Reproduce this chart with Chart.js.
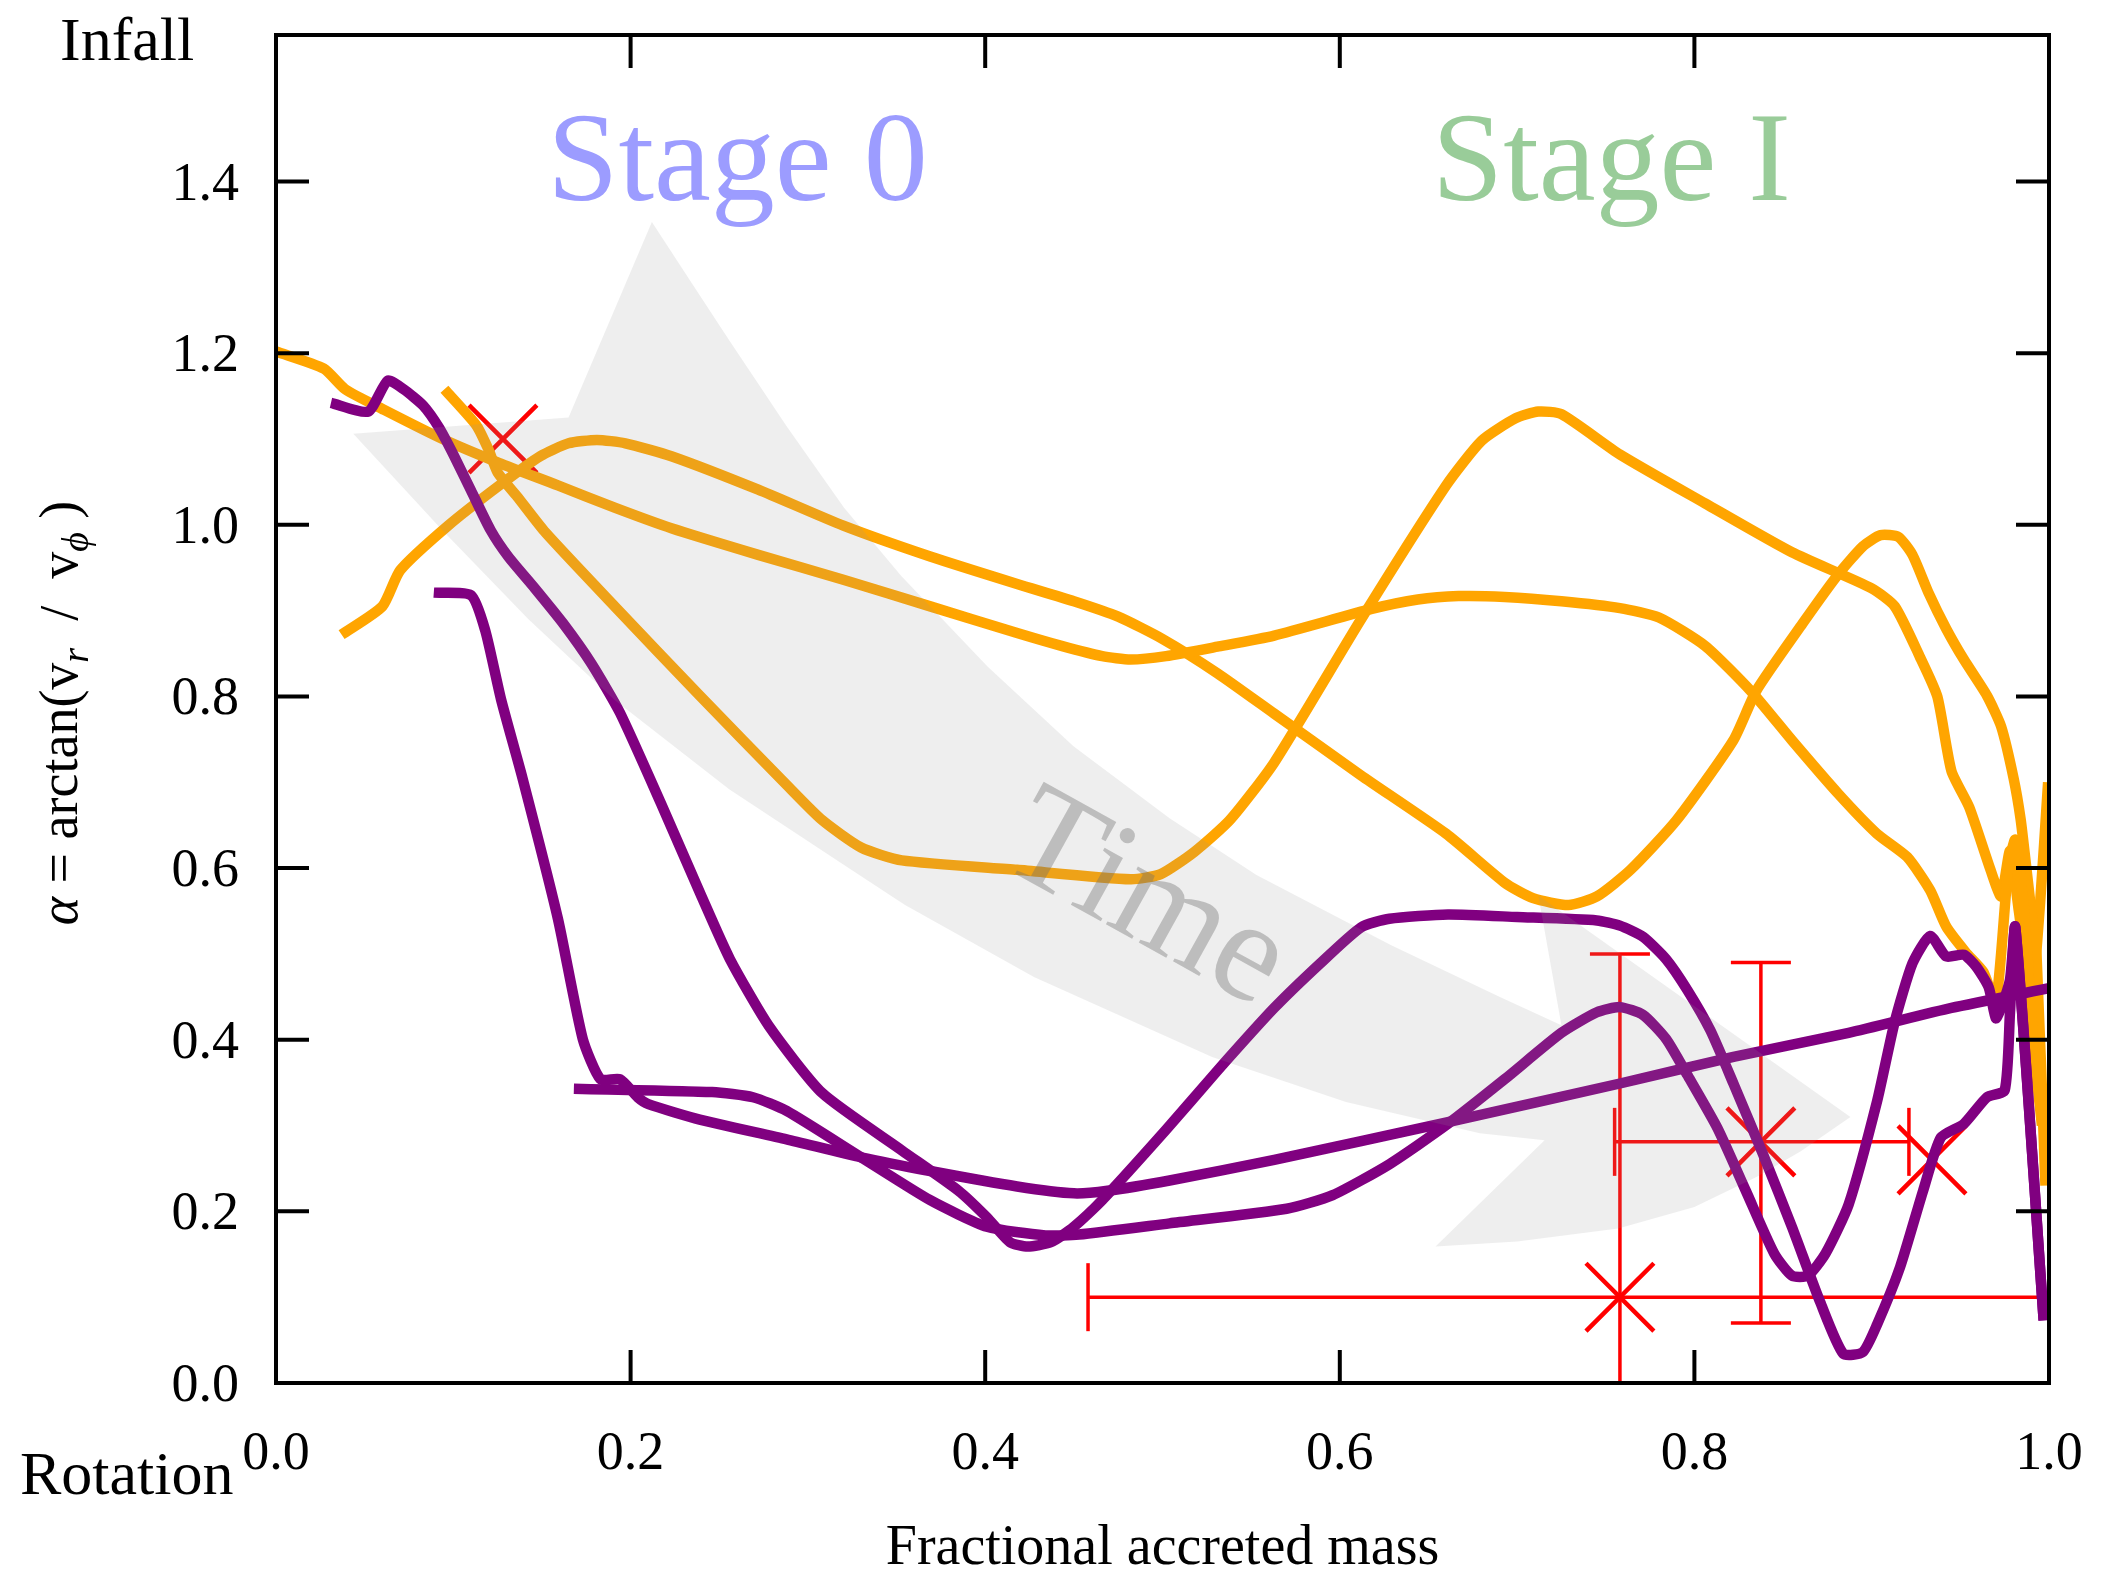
<!DOCTYPE html>
<html>
<head>
<meta charset="utf-8">
<script src="https://cdn.jsdelivr.net/npm/chart.js@4.4.1/dist/chart.umd.min.js"></script>
<style>
  html, body { margin: 0; padding: 0; background: #fff; }
  canvas { display: block; }
</style>
</head>
<body>
<canvas id="chart" width="2102" height="1580"></canvas>
<script>
// axis ticks
const xTicks = [0, 0.2, 0.4, 0.6, 0.8, 1.0];
const yTicks = [0, 0.2, 0.4, 0.6, 0.8, 1.0, 1.2, 1.4];

// orange tracks
const orangeAX = [0.000, 0.027, 0.039, 0.061, 0.094, 0.126, 0.159, 0.191, 0.223, 0.272, 0.320, 0.369, 0.418, 0.443, 0.466, 0.482, 0.502, 0.531, 0.563, 0.618, 0.644, 0.667, 0.693, 0.725, 0.758, 0.780, 0.806, 0.832, 0.855, 0.881, 0.903, 0.920, 0.933, 0.942, 0.953, 0.963, 0.970, 0.977, 0.981, 0.986, 0.991, 0.996];
const orangeAY = [1.202, 1.182, 1.158, 1.134, 1.100, 1.072, 1.046, 1.020, 0.996, 0.965, 0.936, 0.905, 0.874, 0.859, 0.847, 0.843, 0.847, 0.858, 0.871, 0.902, 0.913, 0.917, 0.916, 0.911, 0.903, 0.892, 0.859, 0.806, 0.749, 0.687, 0.640, 0.613, 0.574, 0.532, 0.502, 0.479, 0.443, 0.600, 0.633, 0.550, 0.400, 0.300];

const orangeBX = [0.037, 0.060, 0.070, 0.097, 0.126, 0.149, 0.165, 0.181, 0.197, 0.223, 0.272, 0.320, 0.369, 0.418, 0.450, 0.475, 0.500, 0.531, 0.563, 0.612, 0.660, 0.693, 0.709, 0.729, 0.745, 0.764, 0.790, 0.822, 0.835, 0.861, 0.881, 0.895, 0.905, 0.915, 0.923, 0.932, 0.942, 0.952, 0.965, 0.973, 0.980, 0.984, 0.987, 0.990, 0.993, 0.998];
const orangeBY = [0.872, 0.905, 0.947, 0.999, 1.046, 1.080, 1.095, 1.099, 1.095, 1.080, 1.041, 0.999, 0.963, 0.931, 0.911, 0.893, 0.867, 0.827, 0.780, 0.708, 0.640, 0.583, 0.565, 0.557, 0.567, 0.598, 0.656, 0.749, 0.807, 0.885, 0.942, 0.975, 0.988, 0.986, 0.965, 0.921, 0.879, 0.843, 0.801, 0.765, 0.705, 0.657, 0.604, 0.550, 0.497, 0.230];

const orangeCX = [0.095, 0.113, 0.120, 0.125, 0.136, 0.152, 0.191, 0.239, 0.288, 0.308, 0.330, 0.353, 0.418, 0.482, 0.499, 0.518, 0.538, 0.563, 0.612, 0.660, 0.680, 0.699, 0.712, 0.725, 0.758, 0.806, 0.855, 0.900, 0.913, 0.927, 0.937, 0.945, 0.955, 0.967, 0.973, 0.978, 0.983, 0.990, 0.995, 0.9995];
const orangeCY = [1.158, 1.116, 1.087, 1.061, 1.033, 0.991, 0.905, 0.801, 0.697, 0.656, 0.624, 0.609, 0.598, 0.587, 0.593, 0.619, 0.656, 0.723, 0.890, 1.046, 1.098, 1.124, 1.132, 1.129, 1.082, 1.025, 0.968, 0.926, 0.905, 0.847, 0.800, 0.713, 0.671, 0.598, 0.567, 0.620, 0.550, 0.450, 0.560, 0.700];

// purple tracks
const purpleAX = [0.031, 0.052, 0.063, 0.072, 0.083, 0.092, 0.100, 0.110, 0.121, 0.131, 0.146, 0.162, 0.178, 0.194, 0.217, 0.240, 0.256, 0.278, 0.308, 0.353, 0.385, 0.401, 0.414, 0.424, 0.437, 0.450, 0.466, 0.502, 0.531, 0.563, 0.589, 0.612, 0.628, 0.661, 0.700, 0.745, 0.758, 0.771, 0.784, 0.796, 0.809, 0.822, 0.839, 0.855, 0.871, 0.884, 0.895, 0.903, 0.916, 0.929, 0.939, 0.952, 0.965, 0.975, 0.978, 0.981, 0.997];
const purpleAY = [1.142, 1.132, 1.168, 1.158, 1.139, 1.113, 1.082, 1.040, 0.994, 0.963, 0.926, 0.885, 0.838, 0.781, 0.676, 0.567, 0.494, 0.416, 0.338, 0.271, 0.224, 0.193, 0.164, 0.159, 0.164, 0.182, 0.213, 0.295, 0.364, 0.437, 0.489, 0.531, 0.541, 0.546, 0.543, 0.539, 0.533, 0.520, 0.494, 0.458, 0.411, 0.349, 0.265, 0.182, 0.094, 0.034, 0.036, 0.068, 0.135, 0.224, 0.286, 0.302, 0.333, 0.341, 0.432, 0.531, 0.073];

const purpleBX = [0.089, 0.110, 0.118, 0.127, 0.139, 0.159, 0.173, 0.183, 0.194, 0.204, 0.210, 0.239, 0.288, 0.330, 0.369, 0.418, 0.450, 0.469, 0.504, 0.563, 0.661, 0.758, 0.822, 0.887, 0.945, 1.000];
const purpleBY = [0.921, 0.918, 0.877, 0.796, 0.705, 0.541, 0.401, 0.354, 0.354, 0.333, 0.325, 0.307, 0.284, 0.263, 0.247, 0.229, 0.221, 0.224, 0.236, 0.260, 0.304, 0.349, 0.380, 0.408, 0.437, 0.460];

const purpleCX = [0.168, 0.246, 0.269, 0.288, 0.330, 0.369, 0.401, 0.434, 0.453, 0.504, 0.570, 0.596, 0.628, 0.661, 0.693, 0.725, 0.745, 0.758, 0.771, 0.784, 0.796, 0.813, 0.829, 0.845, 0.855, 0.864, 0.874, 0.887, 0.903, 0.913, 0.923, 0.933, 0.942, 0.952, 0.959, 0.966, 0.970, 0.973, 0.978, 0.981, 0.997];
const purpleCY = [0.343, 0.339, 0.333, 0.317, 0.263, 0.213, 0.182, 0.172, 0.173, 0.186, 0.203, 0.219, 0.255, 0.302, 0.354, 0.408, 0.432, 0.438, 0.429, 0.401, 0.359, 0.297, 0.224, 0.151, 0.125, 0.125, 0.151, 0.208, 0.328, 0.421, 0.489, 0.521, 0.497, 0.499, 0.485, 0.461, 0.425, 0.437, 0.470, 0.531, 0.073];

// red estimates with their ranges (null = no bar)
const markX = [0.128, 0.758, 0.8375, 0.934];
const markY = [1.100, 0.100, 0.281, 0.260];
const markXLow = [null, 0.458, 0.755, null];
const markXHigh = [null, 1.08, 0.921, null];
const markYLow = [null, -0.30, 0.070, null];
const markYHigh = [null, 0.500, 0.490, null];

// outline of the "Time" arrow, in axis units
const timeArrow = [
  [0.212, 1.353], [0.235, 1.280], [0.2556, 1.215], [0.288, 1.115], [0.3204, 1.020], [0.3528, 0.940],
  [0.4013, 0.835], [0.4498, 0.742], [0.504, 0.658], [0.553, 0.592], [0.629, 0.510], [0.690, 0.450],
  [0.725, 0.417], [0.712, 0.568], [0.888, 0.310], [0.860, 0.270], [0.835, 0.240], [0.800, 0.205],
  [0.757, 0.180], [0.700, 0.165], [0.654, 0.159], [0.7155, 0.283], [0.679, 0.291], [0.6035, 0.3275],
  [0.528, 0.380], [0.4275, 0.473], [0.3548, 0.557], [0.3204, 0.6036], [0.2556, 0.692], [0.191, 0.796],
  [0.1424, 0.890], [0.0937, 0.994], [0.0436, 1.106], [0.165, 1.125]
];

const ORANGE = '#ffa500';
const PURPLE = '#800080';
const SERIF = '"Liberation Serif", "Times New Roman", serif';

const toPoints = (xs, ys) => xs.map((x, i) => ({ x: x, y: ys[i] }));

const track = (xs, ys, color, order) => ({
  data: toPoints(xs, ys),
  showLine: true,
  borderColor: color,
  backgroundColor: color,
  borderWidth: 10.5,
  pointRadius: 0,
  tension: 0.2,
  borderJoinStyle: 'round',
  fill: false,
  order: order
});

const line = (ctx, x1, y1, x2, y2) => {
  ctx.beginPath();
  ctx.moveTo(x1, y1);
  ctx.lineTo(x2, y2);
  ctx.stroke();
};

const clipToArea = (ctx, a) => {
  ctx.beginPath();
  ctx.rect(a.left, a.top, a.right - a.left, a.bottom - a.top);
  ctx.clip();
};

// error bars sit underneath the tracks
const errorBars = {
  id: 'errorBars',
  beforeDatasetsDraw(chart) {
    const { ctx, chartArea, scales: { x, y } } = chart;
    ctx.save();
    clipToArea(ctx, chartArea);
    ctx.strokeStyle = '#ff0000';
    ctx.lineWidth = 3.5;
    markX.forEach((mx, i) => {
      const px = x.getPixelForValue(mx);
      const py = y.getPixelForValue(markY[i]);
      if (markXLow[i] !== null) {
        const l = x.getPixelForValue(markXLow[i]);
        const r = x.getPixelForValue(markXHigh[i]);
        line(ctx, l, py, r, py);
        line(ctx, l, py - 34, l, py + 34);
        line(ctx, r, py - 34, r, py + 34);
      }
      if (markYLow[i] !== null) {
        const b = y.getPixelForValue(markYLow[i]);
        const t = y.getPixelForValue(markYHigh[i]);
        line(ctx, px, b, px, t);
        line(ctx, px - 30, t, px + 30, t);
        line(ctx, px - 30, b, px + 30, b);
      }
    });
    ctx.restore();
  }
};

// shaded arrow, its label and the stage names
const annotations = {
  id: 'annotations',
  afterDatasetsDraw(chart) {
    const { ctx, chartArea, scales: { x, y } } = chart;
    ctx.save();
    clipToArea(ctx, chartArea);
    ctx.fillStyle = 'rgba(150, 150, 150, 0.16)';
    ctx.beginPath();
    timeArrow.forEach(([ax, ay], i) => {
      const px = x.getPixelForValue(ax);
      const py = y.getPixelForValue(ay);
      if (i === 0) ctx.moveTo(px, py); else ctx.lineTo(px, py);
    });
    ctx.closePath();
    ctx.fill();

    ctx.translate(x.getPixelForValue(0.49), y.getPixelForValue(0.56));
    ctx.rotate(29 * Math.PI / 180);
    ctx.font = '144px ' + SERIF;
    ctx.fillStyle = 'rgba(110, 110, 110, 0.38)';
    ctx.textAlign = 'center';
    ctx.textBaseline = 'middle';
    ctx.fillText('Time', 0, 0);
    ctx.restore();

    ctx.save();
    ctx.font = '128px ' + SERIF;
    ctx.textBaseline = 'alphabetic';
    ctx.textAlign = 'left';
    ctx.fillStyle = '#9c9cff';
    ctx.fillText('Stage 0', x.getPixelForValue(0.153), y.getPixelForValue(1.378));
    ctx.fillStyle = '#99cc99';
    ctx.fillText('Stage I', x.getPixelForValue(0.652), y.getPixelForValue(1.378));
    ctx.restore();
  }
};

// frame, inward ticks on every side, labels and titles
const frame = {
  id: 'frame',
  afterDraw(chart) {
    const { ctx, chartArea: a, scales: { x, y } } = chart;
    const tick = 33;
    ctx.save();
    ctx.strokeStyle = '#000';
    ctx.lineWidth = 4;
    ctx.lineCap = 'square';
    ctx.strokeRect(a.left, a.top, a.right - a.left, a.bottom - a.top);
    ctx.lineCap = 'butt';
    xTicks.forEach(v => {
      const px = x.getPixelForValue(v);
      line(ctx, px, a.bottom, px, a.bottom - tick);
      line(ctx, px, a.top, px, a.top + tick);
    });
    yTicks.forEach(v => {
      const py = y.getPixelForValue(v);
      line(ctx, a.left, py, a.left + tick, py);
      line(ctx, a.right, py, a.right - tick, py);
    });

    ctx.fillStyle = '#000';
    ctx.font = '54px ' + SERIF;
    ctx.textBaseline = 'alphabetic';
    ctx.textAlign = 'center';
    xTicks.forEach(v => ctx.fillText(v.toFixed(1), x.getPixelForValue(v), 1469));
    ctx.textAlign = 'right';
    yTicks.forEach(v => ctx.fillText(v.toFixed(1), 239, y.getPixelForValue(v) + 18));

    ctx.font = '56px ' + SERIF;
    ctx.textAlign = 'center';
    ctx.textBaseline = 'middle';
    ctx.fillText('Fractional accreted mass', (a.left + a.right) / 2, 1549);

    ctx.font = '62px ' + SERIF;
    ctx.textAlign = 'left';
    ctx.textBaseline = 'alphabetic';
    ctx.fillText('Infall', 60, 60);
    ctx.fillText('Rotation', 20, 1494);

    // alpha = arctan(v_r / v_phi), written bottom to top
    const parts = [
      { t: 'α', f: 'italic 54px ' + SERIF, dy: 0 },
      { t: ' = arctan(v', f: '54px ' + SERIF, dy: 0 },
      { t: 'r', f: 'italic 38px ' + SERIF, dy: 11 },
      { t: '  /  v', f: '54px ' + SERIF, dy: 0 },
      { t: 'ϕ', f: 'italic 38px ' + SERIF, dy: 11 },
      { t: ' )', f: '54px ' + SERIF, dy: 0 }
    ];
    let total = 0;
    parts.forEach(p => { ctx.font = p.f; p.w = ctx.measureText(p.t).width; total += p.w; });
    ctx.translate(77, 713);
    ctx.rotate(-Math.PI / 2);
    let cx = -total / 2;
    parts.forEach(p => {
      ctx.font = p.f;
      ctx.fillText(p.t, cx, p.dy);
      cx += p.w;
    });
    ctx.restore();
  }
};

new Chart(document.getElementById('chart'), {
  type: 'scatter',
  data: {
    datasets: [
      track(purpleAX, purpleAY, PURPLE, 1),
      track(purpleBX, purpleBY, PURPLE, 1),
      track(purpleCX, purpleCY, PURPLE, 1),
      track(orangeAX, orangeAY, ORANGE, 2),
      track(orangeBX, orangeBY, ORANGE, 2),
      track(orangeCX, orangeCY, ORANGE, 2),
      {
        data: toPoints(markX, markY),
        showLine: false,
        pointStyle: 'crossRot',
        pointRadius: 48,
        pointBorderWidth: 4.5,
        pointBorderColor: '#ff0000',
        pointBackgroundColor: '#ff0000',
        order: 3
      }
    ]
  },
  options: {
    responsive: false,
    animation: false,
    devicePixelRatio: 1,
    layout: { autoPadding: false, padding: { left: 0, right: 53, top: 35, bottom: 0 } },
    plugins: { legend: { display: false }, tooltip: { enabled: false } },
    scales: {
      x: {
        type: 'linear',
        min: 0,
        max: 1,
        grid: { display: false },
        border: { display: false },
        ticks: { display: false },
        afterBuildTicks: s => { s.ticks = xTicks.map(v => ({ value: v })); },
        afterFit: s => { s.height = 197; }
      },
      y: {
        type: 'linear',
        min: 0,
        max: Math.PI / 2,
        grid: { display: false },
        border: { display: false },
        ticks: { display: false },
        afterBuildTicks: s => { s.ticks = yTicks.map(v => ({ value: v })); },
        afterFit: s => { s.width = 276; }
      }
    }
  },
  plugins: [errorBars, annotations, frame]
});
</script>
</body>
</html>
